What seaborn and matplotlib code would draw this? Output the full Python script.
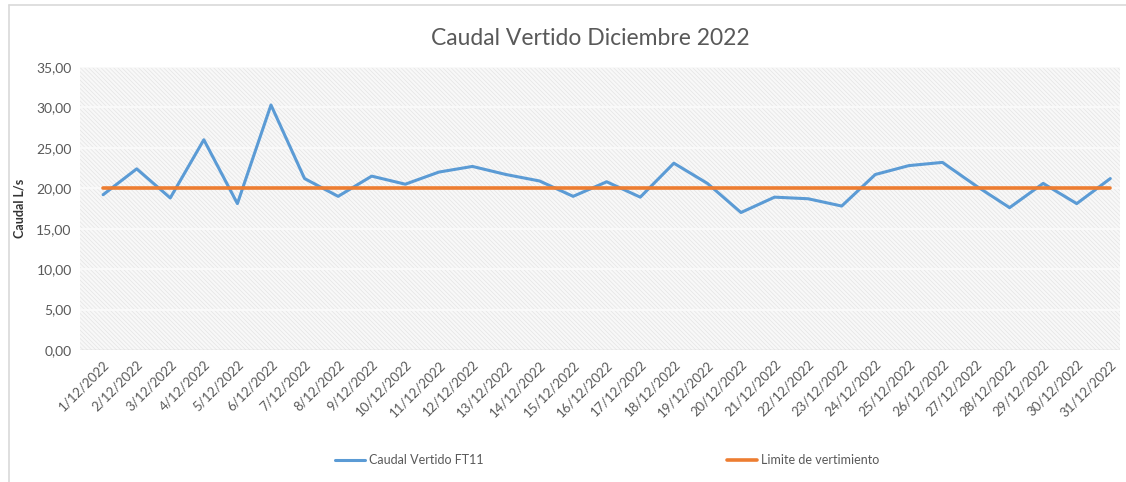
import matplotlib
matplotlib.use('Agg')
import matplotlib.pyplot as plt
import matplotlib.patches as mpatches
import seaborn as sns
import pandas as pd

# data
dates = ["{}/12/2022".format(d) for d in range(1, 32)]
caudal = [19.2, 22.4, 18.8, 26.0, 18.1, 30.3, 21.2, 19.0, 21.5, 20.5,
          22.0, 22.7, 21.7, 20.9, 19.0, 20.8, 18.9, 23.1, 20.6, 17.0,
          18.9, 18.7, 17.8, 21.7, 22.8, 23.2, 20.3, 17.6, 20.6, 18.1, 21.2]
limite = [20.0] * 31
y_ticks = [0, 5, 10, 15, 20, 25, 30, 35]

df = pd.DataFrame({'pos': range(len(dates)), 'Caudal Vertido FT11': caudal,
                   'Limite de vertimiento': limite})

# reset plot configuration
sns.set_theme(style='white')
plt.rcParams['font.family'] = ['Lato', 'DejaVu Sans']
plt.rcParams['hatch.linewidth'] = 0.5

fig = plt.figure(figsize=(11.26, 4.82), dpi=100)
ax = fig.add_axes([0.071, 0.274, 0.924, 0.587])

# hatched background of the plot area
ax.set_facecolor('#f8f8f8')
bg = mpatches.Rectangle((0, 0), 1, 1, transform=ax.transAxes, facecolor='none',
                        edgecolor='#e4e4e4', hatch='\\\\\\\\\\\\\\\\', linewidth=0, zorder=0)
ax.add_patch(bg)

for y in y_ticks[1:]:
    ax.axhline(y, color='#fbfbfb', linewidth=1.2, zorder=1)
ax.axhline(0, color='#d0d0d0', linewidth=1.0, zorder=1)

# draw lines
sns.lineplot(data=df, x='pos', y='Caudal Vertido FT11', color='#5B9BD5',
             linewidth=2.2, ax=ax, label='Caudal Vertido FT11', zorder=3)
sns.lineplot(data=df, x='pos', y='Limite de vertimiento', color='#ED7D31',
             linewidth=2.6, ax=ax, label='Limite de vertimiento', zorder=4)

ax.set_xlim(-0.69, 30.3)
ax.set_ylim(0, 35)
ax.set_yticks(y_ticks)
ax.set_yticklabels(['{:.2f}'.format(v).replace('.', ',') for v in y_ticks],
                   color='#595959', fontsize=10)
ax.set_xticks(list(df['pos']))
ax.set_xticklabels(dates, rotation=45, ha='right', rotation_mode='anchor',
                   color='#595959', fontsize=9.5)
ax.tick_params(axis='both', length=0, pad=6)
ax.set_xlabel('')
ax.set_ylabel('Caudal L/s', fontsize=9, fontweight='bold', color='#333333', labelpad=8)
for s in ax.spines.values():
    s.set_visible(False)

fig.text(0.524, 0.92, 'Caudal Vertido Diciembre 2022', ha='center', va='center',
         fontsize=16.5, color='#595959')

ax.legend(loc='center', bbox_to_anchor=(0.507, -0.39), ncol=2, frameon=False,
          fontsize=9, columnspacing=19.5, handlelength=2.4, handletextpad=0.3,
          labelcolor='#595959')

# outer chart frame
fig.add_artist(plt.Line2D([0.008, 1.0], [0.99, 0.99], color='#d9d9d9',
                          linewidth=1.2, transform=fig.transFigure))
fig.add_artist(plt.Line2D([0.008, 0.008], [0.0, 0.99], color='#d9d9d9',
                          linewidth=1.2, transform=fig.transFigure))

fig.savefig('out.png', dpi=100)
plt.close()
